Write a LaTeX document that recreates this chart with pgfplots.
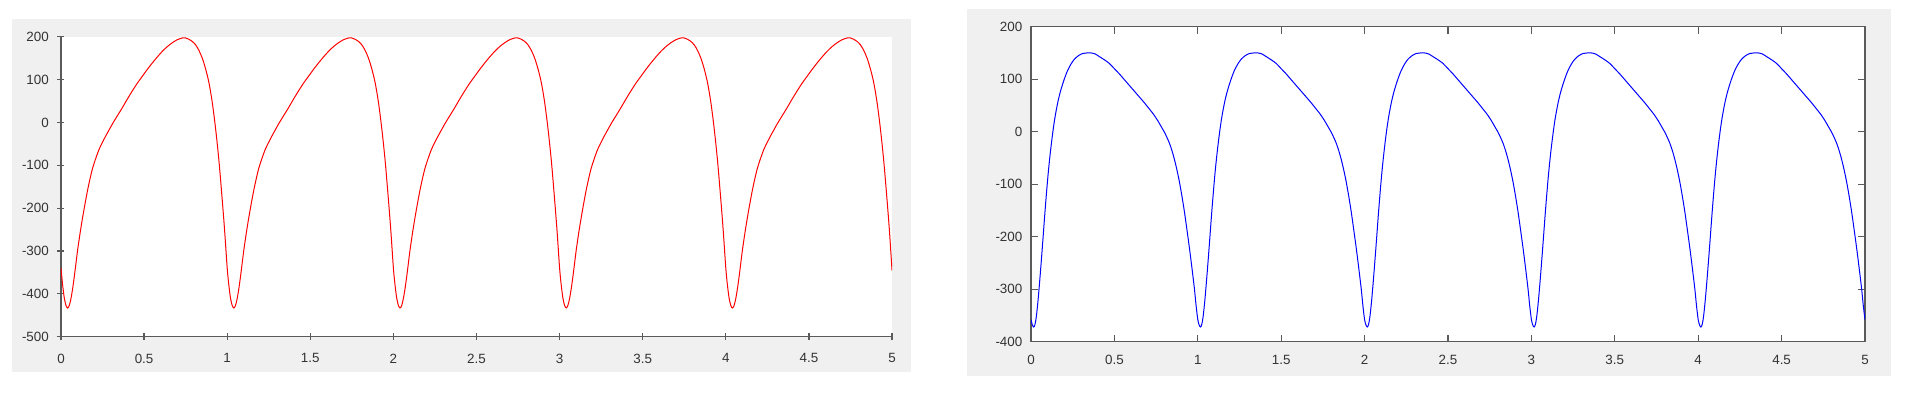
\documentclass[border=0pt]{standalone}
\usepackage{pgfplots}
\pgfplotsset{compat=1.18}
\usepackage{fontspec}
\setmainfont{Liberation Sans}
\definecolor{panelgray}{HTML}{F0F0F0}
\definecolor{axgray}{HTML}{5A5A5A}
\definecolor{lblgray}{HTML}{333333}
\begin{document}
\begin{tikzpicture}
\fill[white] (0pt,0pt) rectangle (964.5pt,198.5pt);
\fill[panelgray] (6.15pt,12.65pt) rectangle (455.4pt,189pt);
\fill[panelgray] (483.3pt,10.65pt) rectangle (945.5pt,194pt);
\pgfplotsset{mystyle/.style={
  scale only axis, anchor=south west,
  axis background/.style={fill=white},
  axis line style={axgray, line width=0.6pt},
  every tick/.style={axgray, line width=0.6pt},
  major tick length=3.5pt,
  tick align=inside,
  ticklabel style={font=\fontsize{6.7}{7}\selectfont, text=lblgray},
  xticklabel style={yshift=-3.2pt},
  yticklabel style={xshift=-0.8pt},
  /pgf/number format/assume math mode=true,
  xmin=0, xmax=5, xtick={0,0.5,1,1.5,2,2.5,3,3.5,4,4.5,5},
}}
% ---------------- left (red) ----------------
\begin{axis}[mystyle, at={(30.5pt,30.15pt)}, width=415.5pt, height=150pt,
  axis lines=left, axis line style={-},
  ymin=-500, ymax=200, ytick={-500,-400,-300,-200,-100,0,100,200}]
\addplot[red, line width=0.5pt, smooth] coordinates {
(0.000,-340) (0.010,-380) (0.020,-410) (0.030,-427) (0.040,-433) (0.050,-427) (0.060,-411) (0.070,-388) (0.080,-360) (0.090,-329) (0.100,-298) (0.115,-258) (0.130,-222) (0.145,-189) (0.160,-158) (0.175,-131) (0.190,-107) (0.210,-83) (0.230,-62) (0.250,-46) (0.270,-31) (0.290,-17) (0.310,-3) (0.340,16) (0.370,35) (0.400,55) (0.430,74) (0.460,92) (0.490,108) (0.520,124) (0.550,139) (0.580,153) (0.610,166) (0.640,177) (0.670,186) (0.700,193) (0.730,197) (0.750,197) (0.770,194) (0.790,189) (0.810,181) (0.830,168) (0.850,150) (0.870,125) (0.890,93) (0.910,47) (0.930,-14) (0.950,-88) (0.970,-180) (0.985,-255)
(1.000,-340) (1.010,-380) (1.020,-410) (1.030,-427) (1.040,-433) (1.050,-427) (1.060,-411) (1.070,-388) (1.080,-360) (1.090,-329) (1.100,-298) (1.115,-258) (1.130,-222) (1.145,-189) (1.160,-158) (1.175,-131) (1.190,-107) (1.210,-83) (1.230,-62) (1.250,-46) (1.270,-31) (1.290,-17) (1.310,-3) (1.340,16) (1.370,35) (1.400,55) (1.430,74) (1.460,92) (1.490,108) (1.520,124) (1.550,139) (1.580,153) (1.610,166) (1.640,177) (1.670,186) (1.700,193) (1.730,197) (1.750,197) (1.770,194) (1.790,189) (1.810,181) (1.830,168) (1.850,150) (1.870,125) (1.890,93) (1.910,47) (1.930,-14) (1.950,-88) (1.970,-180) (1.985,-255)
(2.000,-340) (2.010,-380) (2.020,-410) (2.030,-427) (2.040,-433) (2.050,-427) (2.060,-411) (2.070,-388) (2.080,-360) (2.090,-329) (2.100,-298) (2.115,-258) (2.130,-222) (2.145,-189) (2.160,-158) (2.175,-131) (2.190,-107) (2.210,-83) (2.230,-62) (2.250,-46) (2.270,-31) (2.290,-17) (2.310,-3) (2.340,16) (2.370,35) (2.400,55) (2.430,74) (2.460,92) (2.490,108) (2.520,124) (2.550,139) (2.580,153) (2.610,166) (2.640,177) (2.670,186) (2.700,193) (2.730,197) (2.750,197) (2.770,194) (2.790,189) (2.810,181) (2.830,168) (2.850,150) (2.870,125) (2.890,93) (2.910,47) (2.930,-14) (2.950,-88) (2.970,-180) (2.985,-255)
(3.000,-340) (3.010,-380) (3.020,-410) (3.030,-427) (3.040,-433) (3.050,-427) (3.060,-411) (3.070,-388) (3.080,-360) (3.090,-329) (3.100,-298) (3.115,-258) (3.130,-222) (3.145,-189) (3.160,-158) (3.175,-131) (3.190,-107) (3.210,-83) (3.230,-62) (3.250,-46) (3.270,-31) (3.290,-17) (3.310,-3) (3.340,16) (3.370,35) (3.400,55) (3.430,74) (3.460,92) (3.490,108) (3.520,124) (3.550,139) (3.580,153) (3.610,166) (3.640,177) (3.670,186) (3.700,193) (3.730,197) (3.750,197) (3.770,194) (3.790,189) (3.810,181) (3.830,168) (3.850,150) (3.870,125) (3.890,93) (3.910,47) (3.930,-14) (3.950,-88) (3.970,-180) (3.985,-255)
(4.000,-340) (4.010,-380) (4.020,-410) (4.030,-427) (4.040,-433) (4.050,-427) (4.060,-411) (4.070,-388) (4.080,-360) (4.090,-329) (4.100,-298) (4.115,-258) (4.130,-222) (4.145,-189) (4.160,-158) (4.175,-131) (4.190,-107) (4.210,-83) (4.230,-62) (4.250,-46) (4.270,-31) (4.290,-17) (4.310,-3) (4.340,16) (4.370,35) (4.400,55) (4.430,74) (4.460,92) (4.490,108) (4.520,124) (4.550,139) (4.580,153) (4.610,166) (4.640,177) (4.670,186) (4.700,193) (4.730,197) (4.750,197) (4.770,194) (4.790,189) (4.810,181) (4.830,168) (4.850,150) (4.870,125) (4.890,93) (4.910,47) (4.930,-14) (4.950,-88) (4.970,-180) (4.985,-255)
(5.000,-345)
};
\end{axis}
% ---------------- right (blue) ----------------
\begin{axis}[mystyle, at={(515.5pt,27.65pt)}, width=417pt, height=157.5pt,
  ymin=-400, ymax=200, ytick={-400,-300,-200,-100,0,100,200}]
\addplot[blue, line width=0.5pt, smooth] coordinates {
(0.000,-358) (0.008,-368) (0.016,-372) (0.024,-367) (0.032,-352) (0.042,-322) (0.052,-285) (0.062,-245) (0.072,-203) (0.082,-160) (0.092,-120) (0.102,-83) (0.112,-51) (0.122,-23) (0.132,2) (0.142,24) (0.152,42) (0.162,58) (0.175,75) (0.190,91) (0.205,105) (0.220,117) (0.240,129) (0.260,138) (0.285,145) (0.310,149) (0.335,150) (0.360,150) (0.385,148) (0.410,143) (0.440,137) (0.470,130) (0.500,120) (0.530,110) (0.560,99) (0.590,88) (0.620,77) (0.650,66) (0.680,55) (0.710,43) (0.735,33) (0.760,21) (0.780,10) (0.800,-1) (0.815,-11) (0.830,-22) (0.845,-36) (0.860,-53) (0.875,-73) (0.890,-96) (0.905,-123) (0.920,-153) (0.935,-187) (0.950,-222) (0.965,-260) (0.980,-300) (0.990,-332)
(1.000,-358) (1.008,-368) (1.016,-372) (1.024,-367) (1.032,-352) (1.042,-322) (1.052,-285) (1.062,-245) (1.072,-203) (1.082,-160) (1.092,-120) (1.102,-83) (1.112,-51) (1.122,-23) (1.132,2) (1.142,24) (1.152,42) (1.162,58) (1.175,75) (1.190,91) (1.205,105) (1.220,117) (1.240,129) (1.260,138) (1.285,145) (1.310,149) (1.335,150) (1.360,150) (1.385,148) (1.410,143) (1.440,137) (1.470,130) (1.500,120) (1.530,110) (1.560,99) (1.590,88) (1.620,77) (1.650,66) (1.680,55) (1.710,43) (1.735,33) (1.760,21) (1.780,10) (1.800,-1) (1.815,-11) (1.830,-22) (1.845,-36) (1.860,-53) (1.875,-73) (1.890,-96) (1.905,-123) (1.920,-153) (1.935,-187) (1.950,-222) (1.965,-260) (1.980,-300) (1.990,-332)
(2.000,-358) (2.008,-368) (2.016,-372) (2.024,-367) (2.032,-352) (2.042,-322) (2.052,-285) (2.062,-245) (2.072,-203) (2.082,-160) (2.092,-120) (2.102,-83) (2.112,-51) (2.122,-23) (2.132,2) (2.142,24) (2.152,42) (2.162,58) (2.175,75) (2.190,91) (2.205,105) (2.220,117) (2.240,129) (2.260,138) (2.285,145) (2.310,149) (2.335,150) (2.360,150) (2.385,148) (2.410,143) (2.440,137) (2.470,130) (2.500,120) (2.530,110) (2.560,99) (2.590,88) (2.620,77) (2.650,66) (2.680,55) (2.710,43) (2.735,33) (2.760,21) (2.780,10) (2.800,-1) (2.815,-11) (2.830,-22) (2.845,-36) (2.860,-53) (2.875,-73) (2.890,-96) (2.905,-123) (2.920,-153) (2.935,-187) (2.950,-222) (2.965,-260) (2.980,-300) (2.990,-332)
(3.000,-358) (3.008,-368) (3.016,-372) (3.024,-367) (3.032,-352) (3.042,-322) (3.052,-285) (3.062,-245) (3.072,-203) (3.082,-160) (3.092,-120) (3.102,-83) (3.112,-51) (3.122,-23) (3.132,2) (3.142,24) (3.152,42) (3.162,58) (3.175,75) (3.190,91) (3.205,105) (3.220,117) (3.240,129) (3.260,138) (3.285,145) (3.310,149) (3.335,150) (3.360,150) (3.385,148) (3.410,143) (3.440,137) (3.470,130) (3.500,120) (3.530,110) (3.560,99) (3.590,88) (3.620,77) (3.650,66) (3.680,55) (3.710,43) (3.735,33) (3.760,21) (3.780,10) (3.800,-1) (3.815,-11) (3.830,-22) (3.845,-36) (3.860,-53) (3.875,-73) (3.890,-96) (3.905,-123) (3.920,-153) (3.935,-187) (3.950,-222) (3.965,-260) (3.980,-300) (3.990,-332)
(4.000,-358) (4.008,-368) (4.016,-372) (4.024,-367) (4.032,-352) (4.042,-322) (4.052,-285) (4.062,-245) (4.072,-203) (4.082,-160) (4.092,-120) (4.102,-83) (4.112,-51) (4.122,-23) (4.132,2) (4.142,24) (4.152,42) (4.162,58) (4.175,75) (4.190,91) (4.205,105) (4.220,117) (4.240,129) (4.260,138) (4.285,145) (4.310,149) (4.335,150) (4.360,150) (4.385,148) (4.410,143) (4.440,137) (4.470,130) (4.500,120) (4.530,110) (4.560,99) (4.590,88) (4.620,77) (4.650,66) (4.680,55) (4.710,43) (4.735,33) (4.760,21) (4.780,10) (4.800,-1) (4.815,-11) (4.830,-22) (4.845,-36) (4.860,-53) (4.875,-73) (4.890,-96) (4.905,-123) (4.920,-153) (4.935,-187) (4.950,-222) (4.965,-260) (4.980,-300) (4.990,-332)
(5.000,-358)
};
\end{axis}
\end{tikzpicture}
\end{document}
